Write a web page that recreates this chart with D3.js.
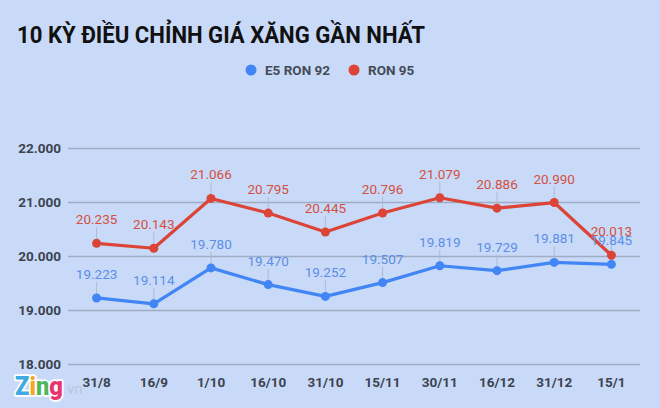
<!DOCTYPE html>
<html><head><meta charset="utf-8">
<script src="https://cdn.jsdelivr.net/npm/d3@7/dist/d3.min.js"></script>
<style>html,body{margin:0;padding:0;background:#c9daf8;}svg{display:block;}</style>
</head><body>
<svg id="c" width="660" height="408"></svg>
<script>
const categories = ["31/8","16/9","1/10","16/10","31/10","15/11","30/11","16/12","31/12","15/1"];
const e5Ron92 = [19223,19114,19780,19470,19252,19507,19819,19729,19881,19845];
const ron95 = [20235,20143,21066,20795,20445,20796,21079,20886,20990,20013];
const yTicks = [18000,19000,20000,21000,22000];
const seriesNames = ["E5 RON 92","RON 95"];

const svg = d3.select("#c");
const W=660,H=408;
svg.append("rect").attr("width",W).attr("height",H).attr("fill","#c9daf8");

const fmt = v => d3.format(",")(v).replace(/,/g,".");

const x = d3.scaleBand().domain(categories).range([68,640]);
const y = d3.scaleLinear().domain([18000,22000]).range([364,148]);
const cx = d => x(d)+x.bandwidth()/2;

// title
svg.append("text").attr("x",17).attr("y",43)
  .attr("font-family","Roboto").attr("font-weight","bold").attr("font-size",24)
  .attr("fill","#111").attr("textLength",408).attr("lengthAdjust","spacingAndGlyphs")
  .text("10 KỲ ĐIỀU CHỈNH GIÁ XĂNG GẦN NHẤT");

// legend
const colors = ["#4285f4","#db4437"];
const legX = [251,354];
seriesNames.forEach((n,i)=>{
  svg.append("circle").attr("cx",legX[i]).attr("cy",70).attr("r",5.5).attr("fill",colors[i]);
  svg.append("text").attr("x",legX[i]+14).attr("y",74.5)
    .attr("font-family","Roboto").attr("font-weight","bold").attr("font-size",13.5)
    .attr("fill","#454b56").text(n);
});

// grid
const gy = svg.append("g").attr("transform","translate(68,0)")
  .call(d3.axisLeft(y).tickValues(yTicks).tickSize(-572).tickPadding(7).tickFormat(fmt));
gy.select(".domain").remove();
gy.selectAll(".tick line").attr("stroke","#9eacc4").attr("stroke-width",1.3);
gy.selectAll(".tick text").attr("font-family","Roboto").attr("font-weight","bold")
  .attr("font-size",13.5).attr("fill","#3c4350");

// x axis
const gx = svg.append("g").attr("transform","translate(0,370)")
  .call(d3.axisBottom(x).tickSize(0).tickPadding(7));
gx.select(".domain").remove();
gx.selectAll(".tick text").attr("font-family","Roboto").attr("font-weight","bold")
  .attr("font-size",13.5).attr("fill","#3c4350");

const series = [e5Ron92, ron95];
// leader lines
series.forEach((vals,si)=>{
  svg.append("g").selectAll("line").data(vals).join("line")
    .attr("x1",(d,i)=>cx(categories[i])).attr("x2",(d,i)=>cx(categories[i]))
    .attr("y1",d=>y(d)-16).attr("y2",d=>y(d))
    .attr("stroke","#aebbd0").attr("stroke-width",1);
});
series.forEach((vals,si)=>{
  const line = d3.line().x((d,i)=>cx(categories[i])).y(d=>y(d));
  svg.append("path").datum(vals).attr("d",line).attr("fill","none")
    .attr("stroke",colors[si]).attr("stroke-width",3.2).attr("stroke-linejoin","round");
  svg.append("g").selectAll("circle").data(vals).join("circle")
    .attr("cx",(d,i)=>cx(categories[i])).attr("cy",d=>y(d)).attr("r",4.5).attr("fill",colors[si]);
});
const labelColors = ["#5b8ee6","#d4503f"];
series.forEach((vals,si)=>{
  svg.append("g").selectAll("text").data(vals).join("text")
    .attr("x",(d,i)=>cx(categories[i])).attr("y",d=>y(d)-19)
    .attr("text-anchor","middle").attr("font-family","Roboto").attr("font-size",13.5)
    .attr("fill",labelColors[si]).text(d=>fmt(d));
});

// logo
const logo = svg.append("text").attr("x",15).attr("y",395)
  .attr("font-family","Roboto").attr("font-weight","900").attr("font-size",25)
  .attr("textLength",48).attr("lengthAdjust","spacingAndGlyphs")
  .attr("stroke","#ffffff").attr("stroke-width",3.5).attr("paint-order","stroke")
  .attr("stroke-linejoin","round");
[["Z","#3fa9e0"],["i","#f5a623"],["n","#4cb85c"],["g","#e8336f"]].forEach(([t,c])=>{
  logo.append("tspan").attr("fill",c).text(t);
});
svg.append("text").attr("x",63).attr("y",394).attr("font-family","Roboto").attr("font-size",15)
  .attr("fill","#bcc7d8").text(".vn");
</script>
</body></html>
